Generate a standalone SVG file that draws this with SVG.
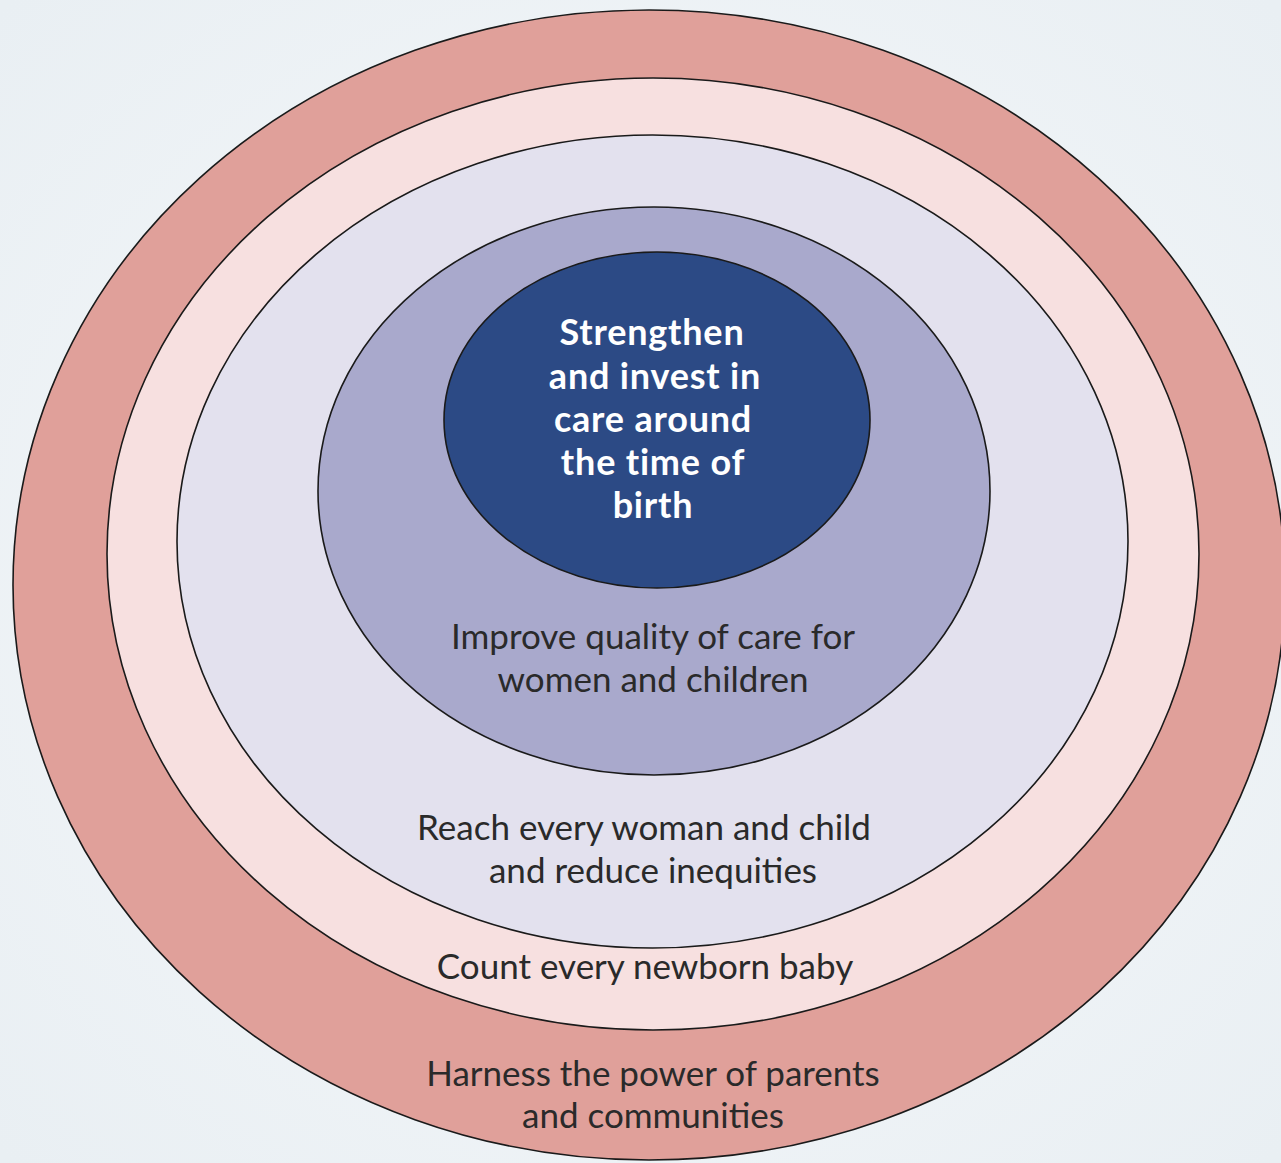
<svg xmlns="http://www.w3.org/2000/svg" width="1281" height="1163" viewBox="0 0 1281 1163">
  <defs>
    <radialGradient id="bg" cx="50%" cy="50%" r="70%">
      <stop offset="0" stop-color="#f7f9fb"/>
      <stop offset="1" stop-color="#e9eff3"/>
    </radialGradient>
    <style>
      .ring { stroke: #1a1a1a; stroke-width: 1.6; }
      .lbl { font-family: "Lato", "Open Sans", sans-serif; font-size: 35px; fill: #2a2a2a; text-anchor: middle; }
      .core { font-family: "Lato", "Open Sans", sans-serif; font-size: 36px; letter-spacing: 0.8px; font-weight: bold; fill: #ffffff; text-anchor: middle; }
    </style>
  </defs>

  <rect width="1281" height="1163" fill="url(#bg)"/>

  <!-- outermost ring: parents and communities -->
  <g id="parents">
    <ellipse class="ring" cx="649" cy="585" rx="636" ry="575" fill="#e0a09a"/>
    <text class="lbl" x="653" y="1086">Harness the power of parents</text>
    <text class="lbl" x="653" y="1128">and communities</text>
  </g>

  <!-- count every newborn -->
  <g id="count">
    <ellipse class="ring" cx="653" cy="554" rx="546" ry="476" fill="#f7e0e0"/>
    <text class="lbl" x="645" y="979">Count every newborn baby</text>
  </g>

  <!-- reach every woman and child -->
  <g id="reach">
    <ellipse class="ring" cx="652.5" cy="541.5" rx="475.5" ry="406.5" fill="#e3e1ee"/>
    <text class="lbl" x="644" y="840">Reach every woman and child</text>
    <text class="lbl" x="653" y="883">and reduce inequities</text>
  </g>

  <!-- quality of care -->
  <g id="quality">
    <ellipse class="ring" cx="654" cy="491" rx="336" ry="284" fill="#a9a9cc"/>
    <text class="lbl" x="653" y="649">Improve quality of care for</text>
    <text class="lbl" x="653" y="692">women and children</text>
  </g>

  <!-- core: care around the time of birth -->
  <g id="core">
    <ellipse class="ring" cx="657" cy="420" rx="213" ry="168" fill="#2c4a85"/>
    <text class="core" x="652" y="345">Strengthen</text>
    <text class="core" x="655" y="389">and invest in</text>
    <text class="core" x="653" y="432">care around</text>
    <text class="core" x="653" y="475">the time of</text>
    <text class="core" x="653" y="518">birth</text>
  </g>

  <!-- no connectors in this diagram -->
  <g id="connectors"/>
</svg>
